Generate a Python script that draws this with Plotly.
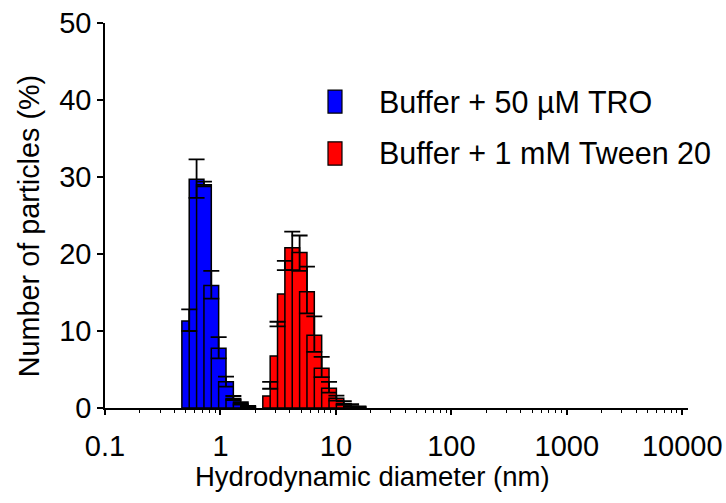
import plotly.graph_objects as go

# ---------------- data ----------------
tro_name = "Buffer + 50 µM TRO"
tro_size = [0.5365, 0.6213, 0.7195, 0.8332, 0.9649, 1.117, 1.294, 1.499, 1.736]
tro_pct = [11.3, 29.7, 29.0, 15.9, 7.75, 3.4, 1.25, 0.6, 0.2]
tro_err_lo = [10.0, 27.3, 28.8, 14.2, 6.45, 2.77, 1.04, 0.45, 0.12]
tro_err_hi = [12.8, 32.3, 29.4, 17.8, 9.2, 4.07, 1.56, 0.75, 0.28]

tw_name = "Buffer + 1 mM Tween 20"
tw_size = [2.696, 3.122, 3.615, 4.187, 4.849, 5.615, 6.503, 7.531, 8.721, 10.1,
           11.7, 13.54, 15.69]
tw_pct = [1.56, 6.75, 14.8, 20.8, 20.2, 15.1, 9.45, 5.15, 2.55, 1.26,
          0.6, 0.26, 0.12]
tw_err_lo = [2.5, 10.6, 17.9, 17.9, 17.8, 12.3, 7.3, 4.0, 2.0, 0.95,
             0.4, 0.15, 0.06]
tw_err_hi = [3.4, 11.2, 19.1, 22.9, 22.4, 18.35, 11.9, 6.65, 3.4, 1.6,
             0.9, 0.5, 0.2]

x_tick_vals = [0.1, 1, 10, 100, 1000, 10000]
x_tick_text = ["0.1", "1", "10", "100", "1000", "10000"]
y_tick_vals = [0, 10, 20, 30, 40, 50]
x_title = "Hydrodynamic diameter (nm)"
y_title = "Number of particles (%)"

# Zetasizer size-class ratio (70 classes from 0.4 nm to 10 µm)
RATIO = (10000 / 0.4) ** (1 / 69)

FONT = "Liberation Sans, Arial, sans-serif"
series = [
    (tro_name, tro_size, tro_pct, tro_err_lo, tro_err_hi, "#0000FF"),
    (tw_name, tw_size, tw_pct, tw_err_lo, tw_err_hi, "#FF0000"),
]

fig = go.Figure()

# bars (each spans one size class either side of its centre; later bars on top)
for name, size, pct, lo, hi, col in series:
    for s, v in zip(size, pct):
        left, right = s / RATIO, s * RATIO
        fig.add_trace(go.Scatter(
            x=[left, left, right, right, left],
            y=[0, v, v, 0, 0],
            mode="lines", fill="toself", fillcolor=col,
            line=dict(color="black", width=1.5),
            hoverinfo="skip", showlegend=False, name=name,
        ))

# error bars on top of all bars
for name, size, pct, lo, hi, col in series:
    mid = [(a + b) / 2 for a, b in zip(lo, hi)]
    half = [(b - a) / 2 for a, b in zip(lo, hi)]
    fig.add_trace(go.Scatter(
        x=size, y=mid, mode="markers",
        marker=dict(size=0.1, color="rgba(0,0,0,0)"),
        error_y=dict(type="data", array=half, visible=True,
                     color="black", thickness=1.8, width=8),
        showlegend=False, hoverinfo="skip", name=name,
    ))

# manual legend (tall swatches like the reference)
legend_rows = [(tro_name, "#0000FF", 0.8257, 0.766, 0.7945),
               (tw_name, "#FF0000", 0.6913, 0.6307, 0.662)]
for name, col, y1, y0, ym in legend_rows:
    fig.add_shape(type="rect", xref="paper", yref="paper",
                  x0=0.3825, x1=0.4065, y0=y0, y1=y1,
                  fillcolor=col, line=dict(color="black", width=1.2))
    fig.add_annotation(text=name, xref="paper", yref="paper",
                       x=0.467, y=ym, xanchor="left", yanchor="middle",
                       showarrow=False,
                       font=dict(family=FONT, size=30.5, color="black"))

# axis titles
fig.add_annotation(text=x_title, xref="paper", yref="paper",
                   x=0.458, y=-0.178, xanchor="center", yanchor="middle",
                   showarrow=False, font=dict(family=FONT, size=27.5, color="black"))
fig.add_annotation(text=y_title, xref="paper", yref="paper", textangle=-90,
                   x=-0.1304, y=0.472, xanchor="center", yanchor="middle",
                   showarrow=False, font=dict(family=FONT, size=28.8, color="black"))

fig.update_xaxes(
    type="log", range=[-1, 4.05], automargin=False,
    tickmode="array", tickvals=x_tick_vals, ticktext=x_tick_text,
    ticks="outside", ticklen=5, tickwidth=1.5, tickcolor="black",
    showline=True, linecolor="black", linewidth=1.5,
    showgrid=False, zeroline=False, ticklabelstandoff=6,
    minor=dict(ticks="outside", ticklen=3, tickwidth=1, tickcolor="black",
               dtick="D1", showgrid=False),
    tickfont=dict(family=FONT, size=29, color="black"),
)
fig.update_yaxes(
    range=[0, 50], tickmode="array", tickvals=y_tick_vals, automargin=False,
    ticks="outside", ticklen=6, tickwidth=1.5, tickcolor="black",
    showline=True, linecolor="black", linewidth=1.5,
    showgrid=False, zeroline=False,
    tickfont=dict(family=FONT, size=29, color="black"),
)
fig.update_layout(
    width=726, height=503,
    margin=dict(l=105, r=38, t=23, b=95),
    plot_bgcolor="white", paper_bgcolor="white",
    showlegend=False,
)
fig.write_html("out.html")
